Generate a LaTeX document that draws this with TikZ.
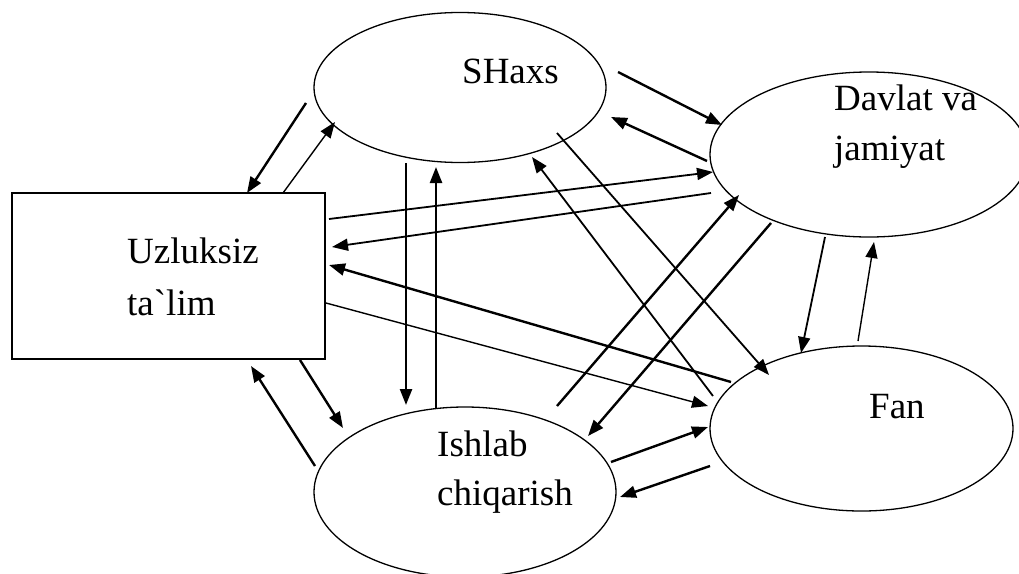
\documentclass[tikz,border=0pt]{standalone}
\usepackage{fontspec}
\setmainfont{Liberation Serif}[Ligatures=TeXOff]
\usetikzlibrary{shapes.geometric,arrows.meta}
\tikzset{
  box/.style={draw, line width=1.3pt, rectangle, inner sep=0pt},
  oval/.style={draw, line width=1.3pt, ellipse, inner sep=0pt},
  lbl/.style={anchor=base west, inner sep=0pt, font=\fontsize{37}{50}\selectfont},
  thk/.style={line width=2.4pt, -{Triangle[length=16pt,width=12pt]}},
  med/.style={line width=1.8pt, -{Triangle[length=16pt,width=12pt]}},
  thn/.style={line width=1.4pt, -{Triangle[length=16pt,width=12pt]}},
}
\begin{document}
\begin{tikzpicture}[x=1pt,y=-1pt]
\useasboundingbox (0,0) rectangle (1019,573);
\clip (0,0) rectangle (1019,573);
\fill[white] (0,0) rectangle (1019,573);
% nodes
\node[box, minimum width=313pt, minimum height=166pt] (ut) at (168.5,276) {};
\node[oval, minimum width=292pt, minimum height=150pt] (sh) at (460,87.5) {};
\node[oval, minimum width=318pt, minimum height=165pt] (dj) at (869,154.5) {};
\node[oval, minimum width=303pt, minimum height=165pt] (fan) at (861.5,428.5) {};
\node[oval, minimum width=302pt, minimum height=170pt] (ic) at (465,492) {};
% labels
\node[lbl] (utl1) at (127,263) {Uzluksiz};
\node[lbl] (utl2) at (127,315) {ta`lim};
\node[lbl] (shl) at (462,83) {SHaxs};
\node[lbl] (djl1) at (834,110) {Davlat va};
\node[lbl] (djl2) at (834,160) {jamiyat};
\node[lbl] (fanl) at (869,418) {Fan};
\node[lbl] (icl1) at (437,456) {Ishlab};
\node[lbl] (icl2) at (437,505) {chiqarish};
% connector end points
\coordinate (sh-ut-s) at (306,103);  \coordinate (sh-ut-e) at (247,193);
\coordinate (ut-sh-s) at (283,193);  \coordinate (ut-sh-e) at (335,122);
\coordinate (sh-ic-s) at (406,163);  \coordinate (sh-ic-e) at (406,405);
\coordinate (ic-sh-s) at (436,408);  \coordinate (ic-sh-e) at (436,167);
\coordinate (ut-dj-s) at (329,219);  \coordinate (ut-dj-e) at (713,172);
\coordinate (dj-ut-s) at (711,193);  \coordinate (dj-ut-e) at (332,247);
\coordinate (fan-ut-s) at (731,382); \coordinate (fan-ut-e) at (329,265);
\coordinate (ut-fan-s) at (326,303); \coordinate (ut-fan-e) at (708,406);
\coordinate (ut-ic-s) at (300,360);  \coordinate (ut-ic-e) at (343,428);
\coordinate (ic-ut-s) at (315,466);  \coordinate (ic-ut-e) at (251,366);
\coordinate (sh-dj-s) at (618,72);   \coordinate (sh-dj-e) at (722,125);
\coordinate (dj-sh-s) at (707,161);  \coordinate (dj-sh-e) at (611,117);
\coordinate (fan-sh-s) at (713,396); \coordinate (fan-sh-e) at (532,157);
\coordinate (sh-fan-s) at (557,133); \coordinate (sh-fan-e) at (769,375);
\coordinate (ic-dj-s) at (557,406);  \coordinate (ic-dj-e) at (739,195);
\coordinate (dj-ic-s) at (771,223);  \coordinate (dj-ic-e) at (588,436);
\coordinate (dj-fan-s) at (825,237); \coordinate (dj-fan-e) at (801,353);
\coordinate (fan-dj-s) at (858,341); \coordinate (fan-dj-e) at (874,242);
\coordinate (ic-fan-s) at (611,462); \coordinate (ic-fan-e) at (708,427);
\coordinate (fan-ic-s) at (710,466); \coordinate (fan-ic-e) at (620,497);
% connectors
\draw[thk] (sh-ut-s) -- (sh-ut-e);
\draw[thn] (ut-sh-s) -- (ut-sh-e);
\draw[thk] (sh-ic-s) -- (sh-ic-e);
\draw[thk] (ic-sh-s) -- (ic-sh-e);
\draw[med] (ut-dj-s) -- (ut-dj-e);
\draw[med] (dj-ut-s) -- (dj-ut-e);
\draw[thk] (fan-ut-s) -- (fan-ut-e);
\draw[thn] (ut-fan-s) -- (ut-fan-e);
\draw[thk] (ut-ic-s) -- (ut-ic-e);
\draw[thk] (ic-ut-s) -- (ic-ut-e);
\draw[thk] (sh-dj-s) -- (sh-dj-e);
\draw[thk] (dj-sh-s) -- (dj-sh-e);
\draw[med] (fan-sh-s) -- (fan-sh-e);
\draw[med] (sh-fan-s) -- (sh-fan-e);
\draw[thk] (ic-dj-s) -- (ic-dj-e);
\draw[thk] (dj-ic-s) -- (dj-ic-e);
\draw[med] (dj-fan-s) -- (dj-fan-e);
\draw[thn] (fan-dj-s) -- (fan-dj-e);
\draw[thk] (ic-fan-s) -- (ic-fan-e);
\draw[thk] (fan-ic-s) -- (fan-ic-e);
\end{tikzpicture}
\end{document}
